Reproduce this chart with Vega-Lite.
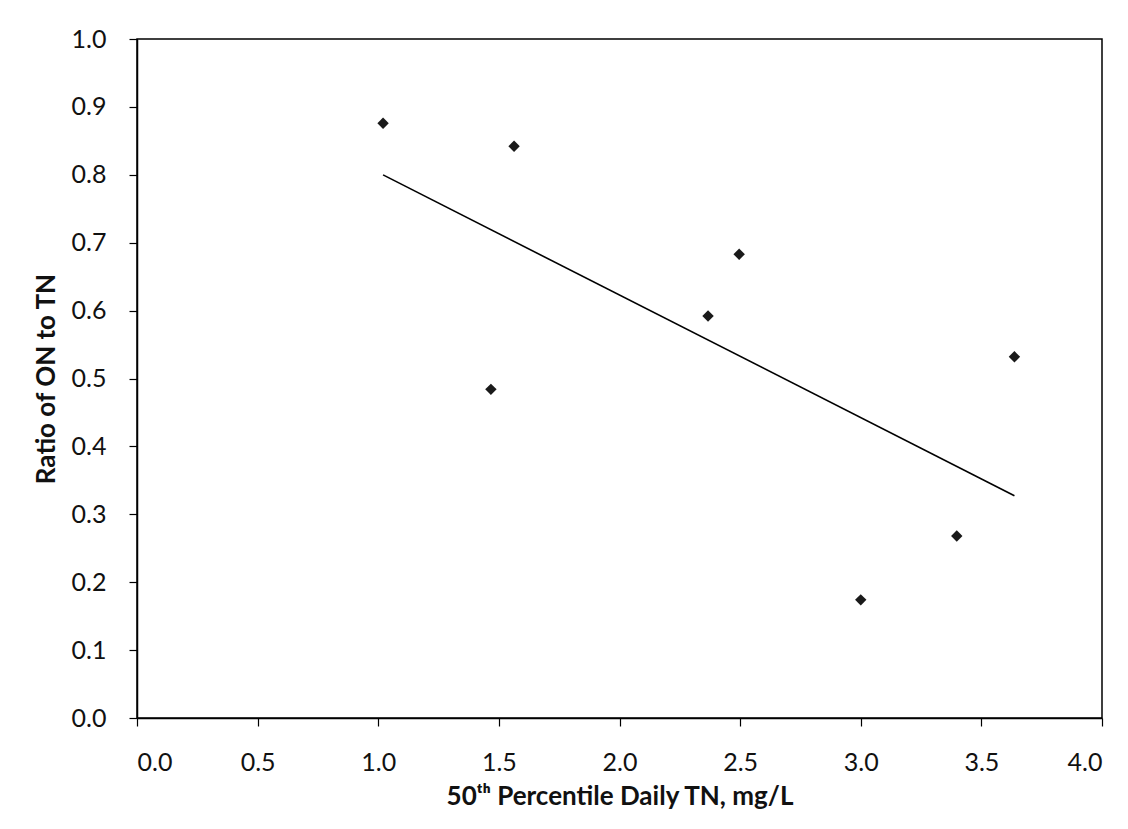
{
  "$schema": "https://vega.github.io/schema/vega-lite/v6.json",
  "autosize": "none",
  "padding": {"left": 137, "top": 39, "right": 26, "bottom": 111},
  "width": 965,
  "height": 679,
  "background": "white",
  "config": {
    "view": {"stroke": "#000000", "strokeWidth": 1.5},
    "font": "Lato",
    "axis": {
      "grid": false,
      "domainColor": "#000000",
      "domainWidth": 1.5,
      "ticks": true,
      "tickColor": "#000000",
      "tickSize": 8,
      "tickWidth": 1.2,
      "labelFont": "Lato",
      "labelFontSize": 25,
      "labelColor": "#111111",
      "titleFont": "Lato",
      "titleFontWeight": "bold",
      "titleColor": "#111111"
    }
  },
  "data": {
    "values": [
      {"tn": 1.02, "ratio": 0.876},
      {"tn": 1.563, "ratio": 0.842},
      {"tn": 1.467, "ratio": 0.484},
      {"tn": 2.496, "ratio": 0.683},
      {"tn": 2.367, "ratio": 0.592},
      {"tn": 3.637, "ratio": 0.532},
      {"tn": 3.398, "ratio": 0.268},
      {"tn": 3.0, "ratio": 0.174}
    ]
  },
  "layer": [
    {
      "transform": [{"regression": "ratio", "on": "tn"}],
      "mark": {"type": "line", "color": "#000000", "strokeWidth": 1.6},
      "encoding": {
        "x": {"field": "tn", "type": "quantitative"},
        "y": {"field": "ratio", "type": "quantitative"}
      }
    },
    {
      "mark": {"type": "point", "shape": "diamond", "filled": true, "size": 130, "color": "#1a1a1a", "opacity": 1},
      "encoding": {
        "x": {
          "field": "tn",
          "type": "quantitative",
          "scale": {"domain": [0, 4], "nice": false, "zero": false},
          "axis": {
            "title": "50ᵗʰ Percentile Daily TN, mg/L",
            "values": [0, 0.5, 1, 1.5, 2, 2.5, 3, 3.5, 4],
            "format": ".1f",
            "labelPadding": 24,
            "titleFontSize": 26,
            "titlePadding": 8
          }
        },
        "y": {
          "field": "ratio",
          "type": "quantitative",
          "scale": {"domain": [0, 1], "nice": false},
          "axis": {
            "title": "Ratio of ON to TN",
            "values": [0, 0.1, 0.2, 0.3, 0.4, 0.5, 0.6, 0.7, 0.8, 0.9, 1.0],
            "format": ".1f",
            "labelPadding": 23,
            "titleFontSize": 26,
            "titlePadding": 12
          }
        }
      }
    }
  ]
}
